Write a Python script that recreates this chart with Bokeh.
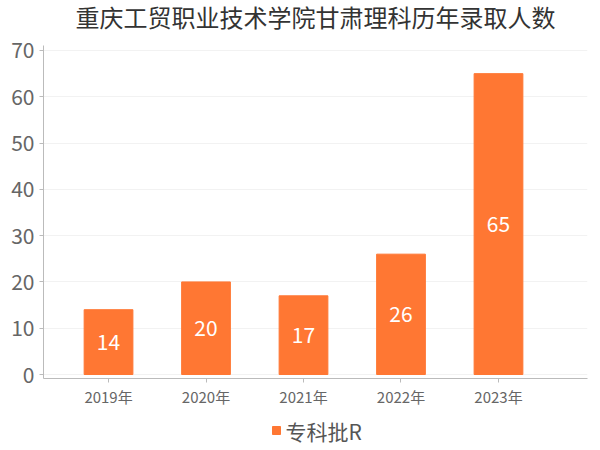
from bokeh.plotting import figure
from bokeh.layouts import column
from bokeh.models import ColumnDataSource, FixedTicker, Range1d
from bokeh.embed import file_html
from bokeh.resources import INLINE
from bokeh.core.properties import value

categories = ["2019年", "2020年", "2021年", "2022年", "2023年"]
counts = [14, 20, 17, 26, 65]
series_name = "专科批R"
title_text = "重庆工贸职业技术学院甘肃理科历年录取人数"
y_ticks = [0, 10, 20, 30, 40, 50, 60, 70]

FONT = "Noto Sans CJK SC"
BAR = "#ff7733"
W = 600


def blank(height):
    f = figure(width=W, height=height, output_backend="svg", toolbar_location=None,
               x_range=Range1d(0, W), y_range=Range1d(0, height),
               x_axis_location=None, y_axis_location=None,
               min_border=0, min_border_left=0, min_border_right=0,
               min_border_top=0, min_border_bottom=0)
    f.grid.visible = False
    f.outline_line_color = None
    return f


# --- title strip ---
pt = blank(33)
pt.text(x=[W / 2], y=[17], text=[title_text], text_font=value(FONT),
        text_font_size="24px", text_color="#333333",
        text_align="center", text_baseline="middle")

# --- main chart ---
xs = list(range(len(categories)))
src = ColumnDataSource(dict(
    x=xs, top=counts, mid=[c / 2 for c in counts],
    label=[str(c) for c in counts],
))

p = figure(width=W, height=377, output_backend="svg", toolbar_location=None,
           x_range=Range1d(-0.667, 4.913), y_range=Range1d(-0.864, 71.08),
           min_border_left=43, min_border_right=13, min_border_top=12,
           min_border_bottom=32)

p.vbar(x="x", top="top", width=0.5, bottom=0, source=src, color=BAR)
p.text(x="x", y="mid", text="label", source=src, text_color="white",
       text_font=value(FONT), text_font_size="21px",
       text_align="center", text_baseline="middle")

p.outline_line_color = None
p.xgrid.grid_line_color = None
p.ygrid.grid_line_color = "#f2f2f2"
p.ygrid.ticker = FixedTicker(ticks=y_ticks)

p.yaxis.ticker = FixedTicker(ticks=y_ticks)
p.xaxis.ticker = FixedTicker(ticks=xs)
p.xaxis.major_label_overrides = {i: c for i, c in zip(xs, categories)}

for ax in (p.xaxis[0], p.yaxis[0]):
    ax.axis_line_color = "#bbbbbb"
    ax.major_tick_line_color = "#bbbbbb"
    ax.major_tick_out = 4
    ax.major_tick_in = 0
    ax.minor_tick_line_color = None
    ax.major_label_text_color = "#666666"
    ax.major_label_text_font = FONT

p.yaxis.major_label_text_font_size = "21px"
p.yaxis.major_label_standoff = 5
p.xaxis.major_label_text_font_size = "15px"
p.xaxis.major_label_standoff = 3

# --- legend strip ---
pl = blank(40)
pl.scatter(x=[257], y=[20], marker="square", size=8, color=BAR)
pl.text(x=[267], y=[20], text=[series_name], text_font=value(FONT),
        text_font_size="21px", text_color="#555555",
        text_align="left", text_baseline="middle")

layout = column(pt, p, pl, spacing=0)
open("out.html", "w").write(file_html(layout, INLINE))
